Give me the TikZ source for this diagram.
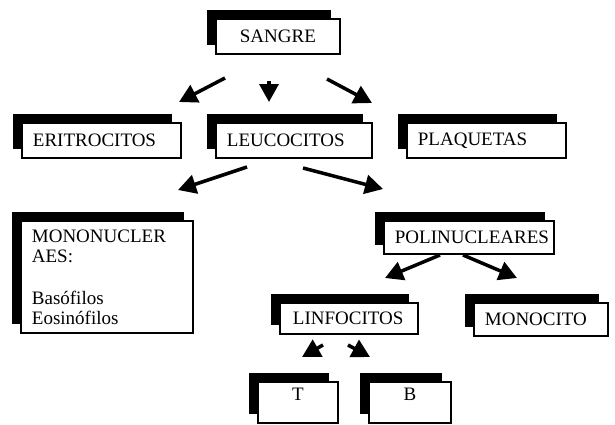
\documentclass[tikz,border=0pt]{standalone}
\usepackage{fontspec}
\setmainfont{Liberation Serif}
\usepackage{tikz}
\usetikzlibrary{arrows.meta,shadows}

\tikzset{
    caja/.style={draw, line width=1.8pt, fill=white, anchor=north west,
        inner xsep=11pt, inner ysep=0pt, minimum height=35pt, align=left,
        font=\fontsize{19}{20}\selectfont,
        drop shadow={shadow xshift=-9pt, shadow yshift=9pt, opacity=1, fill=black}},
    flecha/.style={line width=3.5pt, -{Triangle[length=18pt,width=19pt]}}
}

\begin{document}
\begin{tikzpicture}[x=1pt,y=-1pt]
        \useasboundingbox (0,0) rectangle (615,424);
        \node[caja, align=center, text width=102pt] (sangre) at (215,18) {SANGRE};
        \node[caja, text width=137pt] (eritro) at (21,122) {ERITROCITOS};
        \node[caja, text width=134pt] (leuco) at (215,122) {LEUCOCITOS};
        \node[caja, text width=137pt] (plaq) at (406,122) {PLAQUETAS};
        \node[caja, text width=150pt, minimum height=112pt] (mono) at (20,220) {MONONUCLER\\AES:\\[22pt]Basófilos\\Eosinófilos};
        \node[caja, text width=148pt, minimum height=33pt] (poli) at (383,220) {POLINUCLEARES};
        \node[caja, text width=112pt, inner xsep=13pt, minimum height=31pt] (linfo) at (279,302) {LINFOCITOS};
        \node[caja, text width=112pt, minimum height=33pt] (monocito) at (473,302) {MONOCITO};
        \node[caja, align=center, text width=58pt, text height=19pt, text depth=22pt] (linfT) at (257,381) {T};
        \node[caja, align=center, text width=60pt, text height=19pt, text depth=22pt] (linfB) at (368,381) {B};
        \coordinate (s1) at (225,78); \coordinate (e1) at (179,102);
        \coordinate (s2) at (269,81); \coordinate (e2) at (269,102);
        \coordinate (s3) at (327,79); \coordinate (e3) at (372,103);
        \coordinate (l1) at (247,167); \coordinate (m1) at (178,190);
        \coordinate (l2) at (303,168); \coordinate (p1) at (383,189);
        \coordinate (q1) at (440,255); \coordinate (n1) at (385,278);
        \coordinate (q2) at (463,255); \coordinate (o1) at (517,278);
        \coordinate (f1) at (323,345); \coordinate (t1) at (302,357);
        \coordinate (f2) at (348,345); \coordinate (b1) at (370,357);
        \draw[flecha] (s1) -- (e1);
        \draw[flecha] (s2) -- (e2);
        \draw[flecha] (s3) -- (e3);
        \draw[flecha] (l1) -- (m1);
        \draw[flecha] (l2) -- (p1);
        \draw[flecha] (q1) -- (n1);
        \draw[flecha] (q2) -- (o1);
        \draw[flecha] (f1) -- (t1);
        \draw[flecha] (f2) -- (b1);
    \end{tikzpicture}
\end{document}
